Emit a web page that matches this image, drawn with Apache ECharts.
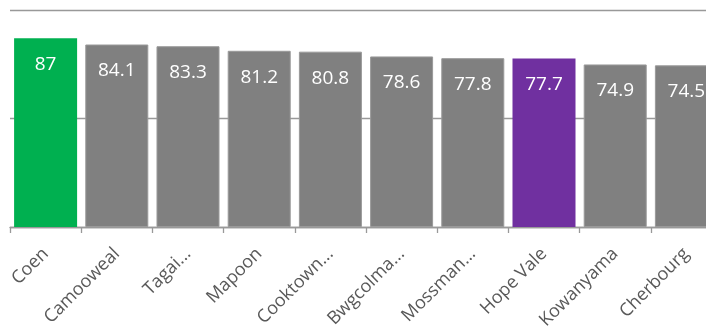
<!DOCTYPE html>
<html>
<head>
<meta charset="utf-8">
<script src="https://cdn.jsdelivr.net/npm/echarts@6/dist/echarts.min.js"></script>
<style>html,body{margin:0;padding:0;background:#fff}#c{width:706px;height:328px}</style>
</head>
<body>
<div id="c"></div>
<script>
const categories = ["Coen", "Camooweal", "Tagai...", "Mapoon", "Cooktown...", "Bwgcolma...", "Mossman...", "Hope Vale", "Kowanyama", "Cherbourg"];
const values = [87, 84.1, 83.3, 81.2, 80.8, 78.6, 77.8, 77.7, 74.9, 74.5];
const yTicks = [0, 50, 100];

const highlight = { "Coen": "#00B050", "Hope Vale": "#7030A0" };
const baseColor = "#808080";

const chart = echarts.init(document.getElementById('c'), null, { renderer: 'canvas' });
chart.setOption({
  animation: false,
  grid: { left: 10, width: 712, top: 10, height: 217, containLabel: false, outerBoundsMode: 'none' },
  xAxis: {
    type: 'category',
    data: categories,
    axisLine: { show: true, lineStyle: { color: '#999999', width: 1.3 } },
    axisTick: { show: true, length: 6, lineStyle: { color: '#999999', width: 1.3 } },
    axisLabel: {
      rotate: 45, interval: 0, margin: 24, hideOverlap: false,
      color: '#595959', fontFamily: 'Open Sans', fontSize: 18
    }
  },
  yAxis: {
    type: 'value', min: yTicks[0], max: yTicks[yTicks.length - 1], interval: yTicks[1] - yTicks[0],
    axisLine: { show: false }, axisTick: { show: false }, axisLabel: { show: false },
    splitLine: { show: true, lineStyle: { color: '#999999', width: 1.3 } }
  },
  series: [{
    type: 'bar',
    barCategoryGap: '11.5%',
    data: values.map((v, i) => ({
      value: v,
      itemStyle: { color: highlight[categories[i]] || baseColor,
                   borderColor: highlight[categories[i]] ? null : '#9a9a9a', borderWidth: highlight[categories[i]] ? 0 : 1 }
    })),
    label: {
      show: true, position: 'insideTop', distance: 17,
      color: '#ffffff', fontFamily: 'Open Sans', fontSize: 19
    }
  }]
});
</script>
</body>
</html>
